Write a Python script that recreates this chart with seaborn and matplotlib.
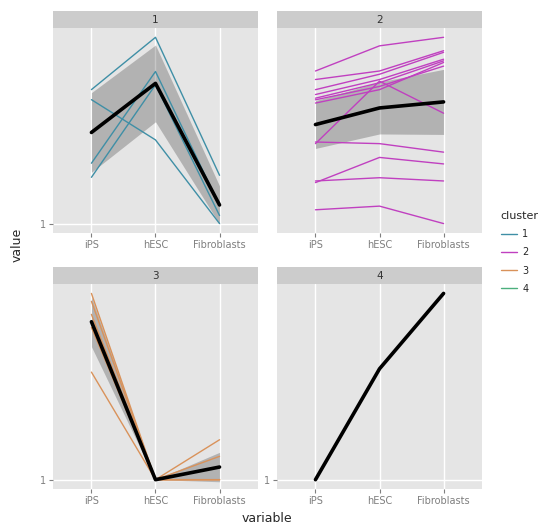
import numpy as np
import pandas as pd
import seaborn as sns
import matplotlib.pyplot as plt
from matplotlib.lines import Line2D
from matplotlib.patches import Rectangle

# categories on the x axis
variables = ["iPS", "hESC", "Fibroblasts"]
clusters = ["1", "2", "3", "4"]
cluster_colors = ["#3f8fa6", "#c040c0", "#d9925a", "#4caf7d"]

# one row per gene: value at iPS, hESC, Fibroblasts
cluster1 = [
    [4.33, 5.63, 2.20],
    [4.08, 3.08, 1.00],
    [2.50, 4.78, 1.45],
    [2.15, 4.45, 1.20],
]
cluster2 = [
    [5.76, 6.38, 6.59],
    [5.55, 5.76, 6.26],
    [5.18, 5.55, 6.05],
    [5.09, 5.47, 6.01],
    [5.05, 5.38, 5.88],
    [4.97, 5.30, 5.97],
    [3.97, 5.51, 4.72],
    [4.01, 3.97, 3.76],
    [3.01, 3.63, 3.47],
    [3.05, 3.13, 3.05],
    [2.34, 2.43, 2.00],
    [5.30, 5.68, 6.22],
]
cluster3 = [
    [5.71, 1.00, 2.01],
    [5.51, 1.00, 1.00],
    [5.18, 1.00, 1.00],
    [4.85, 1.00, 1.59],
    [3.72, 1.00, 1.00],
]
cluster4 = [
    [1.00, 3.81, 5.72],
]

# long table
rows = []
for cl, genes in zip(clusters, [cluster1, cluster2, cluster3, cluster4]):
    for gi, vals in enumerate(genes):
        for vi, v in enumerate(vals):
            rows.append({"cluster": cl, "gene": f"{cl}_{gi}",
                         "variable": variables[vi], "x": vi, "value": v})
df = pd.DataFrame(rows)

sns.set_theme(style="darkgrid", rc={
    "axes.facecolor": "#E5E5E5",
    "grid.color": "white",
    "grid.linewidth": 1.0,
})
plt.rcParams["font.family"] = ["DejaVu Sans"]

palette = dict(zip(clusters, cluster_colors))
g = sns.relplot(data=df, x="x", y="value", hue="cluster", units="gene",
                estimator=None, kind="line", col="cluster", col_wrap=2,
                palette=palette, legend=False, linewidth=1.0,
                facet_kws=dict(sharey=False, sharex=False),
                height=2.05, aspect=1)

# black mean line with ribbon on top of the gene lines
g.map_dataframe(sns.lineplot, x="x", y="value", color="black", linewidth=2.6,
                errorbar=("se", 1.8), err_kws=dict(alpha=0.22, linewidth=0))

fig = g.figure
fig.set_size_inches(5.48, 5.28)
fig.subplots_adjust(left=53/548, right=482/548, top=1-28/528, bottom=1-489/528,
                    wspace=0.093, hspace=0.25)

strip_h = 17 / 205
for ax, cl in zip(g.axes.flat, clusters):
    sub = df[df["cluster"] == cl]["value"]
    lo, hi = sub.min(), sub.max()
    pad = (hi - lo) * 0.05
    ax.set_ylim(lo - pad, hi + pad)
    ax.set_xlim(-0.6, 2.6)
    ax.set_xticks(range(len(variables)))
    ax.set_xticklabels(variables)
    if lo - pad <= 1 <= hi + pad:
        ax.set_yticks([1])
        ax.set_yticklabels(["1"])
    else:
        ax.set_yticks([])
    ax.set_title("")
    ax.set_xlabel("")
    ax.set_ylabel("")
    ax.tick_params(axis="both", colors="#7F7F7F", labelsize=7, length=3,
                   width=0.8, pad=2, left=True, bottom=True)
    for s in ax.spines.values():
        s.set_visible(False)
    ax.add_patch(Rectangle((0, 1), 1, strip_h, transform=ax.transAxes,
                           clip_on=False, facecolor="#CCCCCC", edgecolor="none"))
    ax.text(0.5, 1 + strip_h / 2, cl, transform=ax.transAxes, ha="center",
            va="center", fontsize=7.5, color="#333333")

fig.text(267/548, 1-519/528, "variable", ha="center", va="center", fontsize=9)
fig.text(17/548, 1-245/528, "value", ha="center", va="center", fontsize=9,
         rotation=90)

handles = [Line2D([], [], color=c, linewidth=1.0) for c in cluster_colors]
leg = fig.legend(handles=handles, labels=clusters, title="cluster",
                 loc="upper left", bbox_to_anchor=(492/548, 1-202/528),
                 frameon=False, fontsize=7, title_fontsize=8,
                 handlelength=1.7, labelspacing=0.85, handletextpad=0.5)
leg._legend_box.align = "left"

fig.savefig("out.png", dpi=100)
